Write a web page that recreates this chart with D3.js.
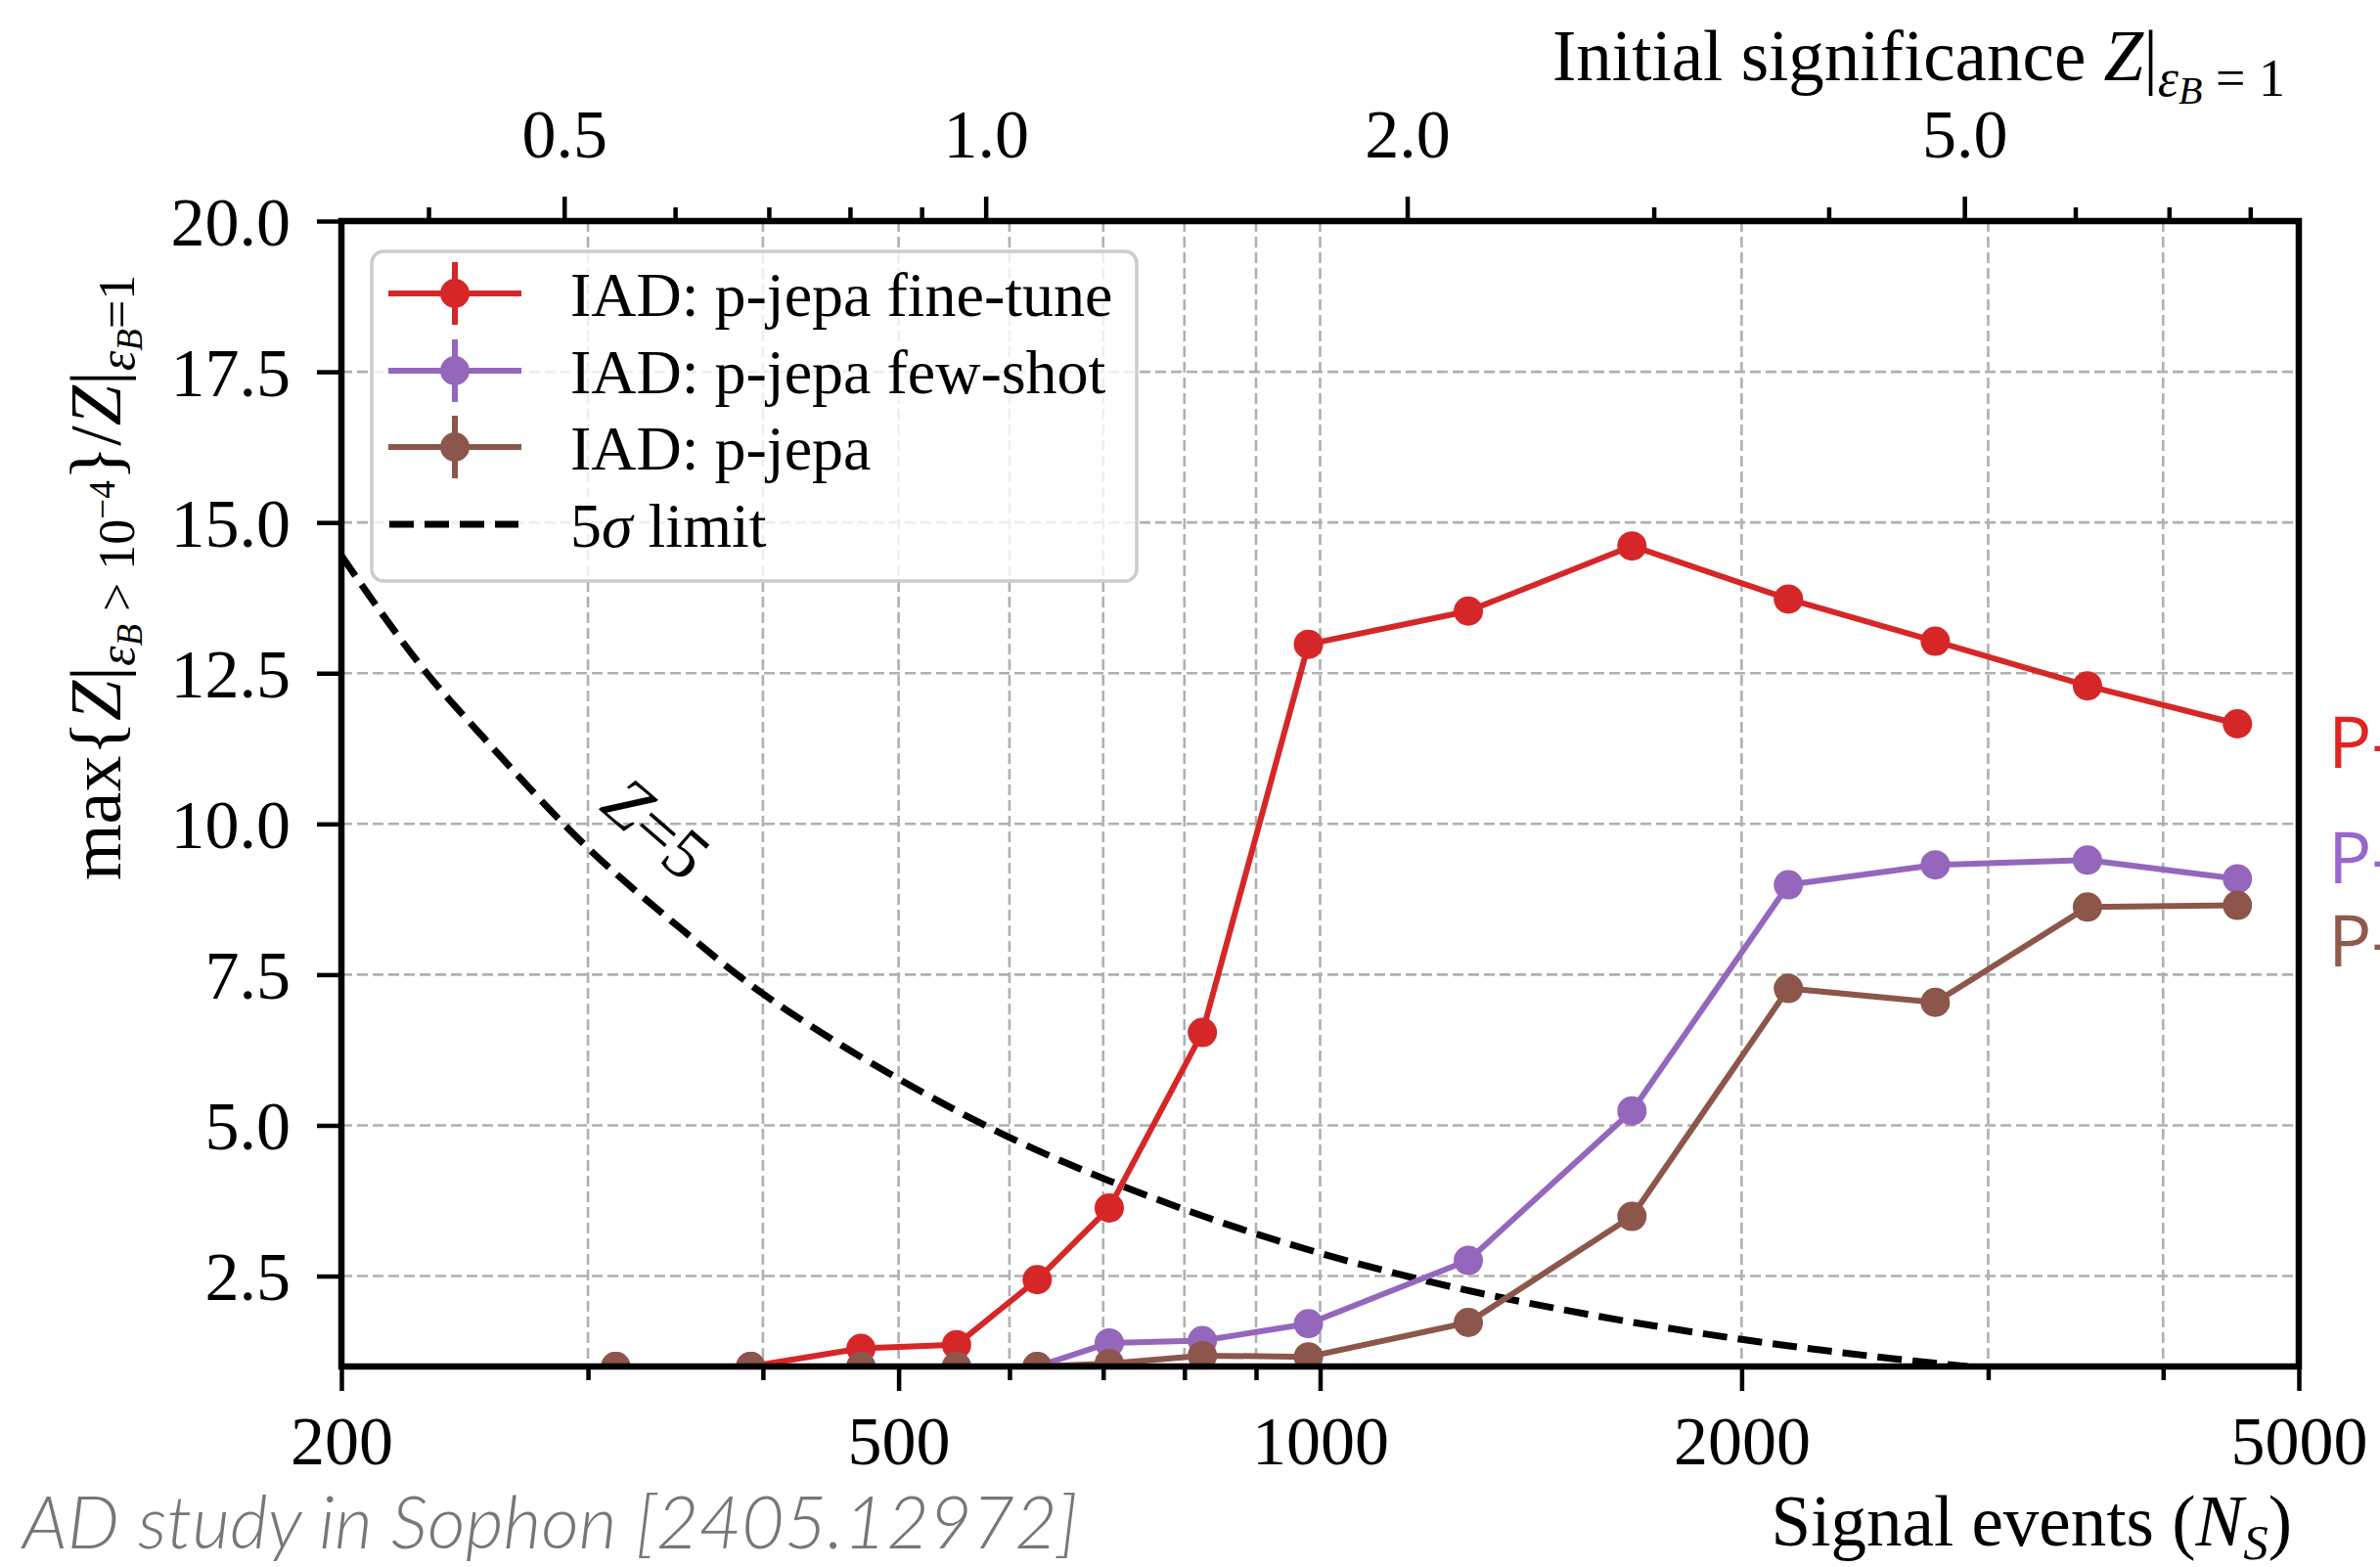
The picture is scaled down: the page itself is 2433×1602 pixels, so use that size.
<!DOCTYPE html>
<html>
<head>
<meta charset="utf-8">
<script src="https://cdn.jsdelivr.net/npm/d3@7"></script>
<style>
  body { margin: 0; background: white; }
  svg { display: block; }
</style>
</head>
<body>
<div id="canvas"></div>
<script>
"use strict"

/* drawing size */
let svgWidth = 2433;
let svgHeight = 1602;

/* plot box */
let plotLeft = 349;
let plotRight = 2350;
let plotTop = 226;
let plotBottom = 1397;

/* signal events (N_S) of the points */
let signalEvents = [314, 392, 470, 550, 628, 707, 824, 981, 1276, 1670, 2160, 2750, 3532, 4520];

/* max significance ratio per series */
let fineTune = [1.0, 1.0, 1.30, 1.36, 2.44, 3.63, 6.54, 12.98, 13.53, 14.61, 13.73, 13.03, 12.29, 11.66];
let fewShot  = [1.0, 1.0, 1.0, 1.0, 1.0, 1.39, 1.43, 1.71, 2.76, 5.24, 8.99, 9.32, 9.40, 9.09];
let pjepa    = [1.0, 1.0, 1.0, 1.0, 1.0, 1.05, 1.18, 1.16, 1.73, 3.49, 7.27, 7.04, 8.62, 8.65];

/* 5 sigma limit */
let limitEvents = [200, 233, 250, 300, 350, 391, 450, 500, 600, 707, 786, 900, 1000, 1200, 1500, 2000, 2500, 2900];
let limitValues = [14.45, 12.35, 11.55, 9.6, 8.25, 7.35, 6.4, 5.77, 4.8, 4.08, 3.67, 3.2, 2.88, 2.4, 1.93, 1.45, 1.16, 1.0];

/* ticks */
let xMajorTicks = [200, 500, 1000, 2000, 5000];
let xMinorTicks = [300, 400, 600, 700, 800, 900, 3000, 4000];
let yTicks = [2.5, 5, 7.5, 10, 12.5, 15, 17.5, 20];
let zMajorTicks = [0.5, 1.0, 2.0, 5.0];
let zMinorTicks = [0.4, 0.6, 0.7, 0.8, 0.9, 3, 4, 6, 7, 8];
let eventsAtZ1 = 577; // N_S where initial Z = 1

let seriesNames = ["IAD: p-jepa fine-tune", "IAD: p-jepa few-shot", "IAD: p-jepa"];
let seriesColors = ["#d62728", "#9467bd", "#8c564b"];
let sideLabelColors = ["#e02424", "#9966cc", "#8f5a4a"];

let serif = "'Liberation Serif', 'Times New Roman', serif";

/* Create drawing canvas */
let svg = d3.select("#canvas")
    .append("svg")
    .attr("width", svgWidth)
    .attr("height", svgHeight)
    .style("background", "white");

/* Scales */
let xScale = d3.scaleLog()
    .domain([200, 5000])
    .range([plotLeft, plotRight]);

let zScale = d3.scaleLog()
    .domain([200 / eventsAtZ1, 5000 / eventsAtZ1])
    .range([plotLeft, plotRight]);

let yScale = d3.scaleLinear()
    .domain([1, 20])
    .range([plotBottom, plotTop]);

/* clip to the plot box */
svg.append("clipPath")
    .attr("id", "plotClip")
    .append("rect")
    .attr("x", plotLeft)
    .attr("y", plotTop)
    .attr("width", plotRight - plotLeft)
    .attr("height", plotBottom - plotTop);

/* grid lines */
let grid = svg.append("g")
    .attr("stroke", "#b0b0b0")
    .attr("stroke-width", 2.6)
    .attr("stroke-dasharray", "11,5");

grid.selectAll(".vgrid")
    .data(xMajorTicks.concat(xMinorTicks))
    .join("line")
    .attr("class", "vgrid")
    .attr("x1", d => xScale(d))
    .attr("x2", d => xScale(d))
    .attr("y1", plotTop)
    .attr("y2", plotBottom);

grid.selectAll(".hgrid")
    .data(yTicks)
    .join("line")
    .attr("class", "hgrid")
    .attr("x1", plotLeft)
    .attr("x2", plotRight)
    .attr("y1", d => yScale(d))
    .attr("y2", d => yScale(d));

/* 5 sigma dashed curve */
let limitLine = d3.line()
    .x((d, i) => xScale(limitEvents[i]))
    .y(d => yScale(d))
    .curve(d3.curveMonotoneX);

svg.append("path")
    .datum(limitValues)
    .attr("clip-path", "url(#plotClip)")
    .attr("d", limitLine)
    .attr("fill", "none")
    .attr("stroke", "black")
    .attr("stroke-width", 7)
    .attr("stroke-dasharray", "25,11");

/* rich text helper: parts with size, offset and italic */
function richText(sel, parts) {
    let cur = 0;
    parts.forEach(function(p) {
        sel.append("tspan")
            .attr("font-size", p.s)
            .attr("dy", p.o - cur)
            .attr("font-style", p.i ? "italic" : null)
            .text(p.t);
        cur = p.o;
    });
    return sel;
}

/* Z = 5 label on the curve */
let zLabel = svg.append("text")
    .attr("transform", "translate(671,847) rotate(41)")
    .attr("text-anchor", "middle")
    .attr("y", 24)
    .attr("font-family", serif)
    .attr("font-size", 72);
richText(zLabel, [
    {t: "Z", s: 72, o: 0, i: true},
    {t: "=5", s: 72, o: 0}
]);

/* series lines and markers */
let dataSets = [fineTune, fewShot, pjepa];

let seriesLine = d3.line()
    .x((d, i) => xScale(signalEvents[i]))
    .y(d => yScale(d));

dataSets.forEach(function(values, k) {
    let g = svg.append("g").attr("clip-path", "url(#plotClip)");
    g.append("path")
        .datum(values)
        .attr("d", seriesLine)
        .attr("fill", "none")
        .attr("stroke", seriesColors[k])
        .attr("stroke-width", 6)
        .attr("stroke-linejoin", "round");
    g.selectAll("circle")
        .data(values)
        .join("circle")
        .attr("cx", (d, i) => xScale(signalEvents[i]))
        .attr("cy", d => yScale(d))
        .attr("r", 15)
        .attr("fill", seriesColors[k]);
});

/* Legend */
let legend = svg.append("g");

legend.append("rect")
    .attr("x", 380)
    .attr("y", 257)
    .attr("width", 782)
    .attr("height", 337)
    .attr("rx", 12)
    .attr("fill", "white")
    .attr("fill-opacity", 0.8)
    .attr("stroke", "#cccccc")
    .attr("stroke-width", 3.5);

let rowY = [300, 379, 457, 536];

seriesNames.forEach(function(name, k) {
    legend.append("line")
        .attr("x1", 397).attr("x2", 533)
        .attr("y1", rowY[k]).attr("y2", rowY[k])
        .attr("stroke", seriesColors[k])
        .attr("stroke-width", 6);
    legend.append("line")
        .attr("x1", 465).attr("x2", 465)
        .attr("y1", rowY[k] - 32).attr("y2", rowY[k] + 32)
        .attr("stroke", seriesColors[k])
        .attr("stroke-width", 6);
    legend.append("circle")
        .attr("cx", 465)
        .attr("cy", rowY[k])
        .attr("r", 15)
        .attr("fill", seriesColors[k]);
    legend.append("text")
        .attr("x", 583)
        .attr("y", rowY[k] + 23)
        .attr("font-family", serif)
        .attr("font-size", 64)
        .text(name);
});

legend.append("line")
    .attr("x1", 398).attr("x2", 530)
    .attr("y1", rowY[3]).attr("y2", rowY[3])
    .attr("stroke", "black")
    .attr("stroke-width", 7)
    .attr("stroke-dasharray", "25,11");

let limitText = legend.append("text")
    .attr("x", 583)
    .attr("y", rowY[3] + 23)
    .attr("font-family", serif)
    .attr("font-size", 64);
richText(limitText, [
    {t: "5", s: 64, o: 0},
    {t: "σ", s: 64, o: 0, i: true},
    {t: " limit", s: 64, o: 0}
]);

/* Axes */
function styleAxis(g) {
    g.select(".domain").remove();
    g.attr("font-family", serif).attr("font-size", 70);
    g.selectAll("line").attr("stroke", "black").attr("stroke-width", 4.5);
    g.selectAll("text").attr("fill", "black");
}

svg.append("g")
    .attr("transform", "translate(0," + plotBottom + ")")
    .call(d3.axisBottom(xScale).tickValues(xMajorTicks).tickFormat(d3.format("d")).tickSize(25))
    .call(styleAxis)
    .selectAll("text").attr("y", 100).attr("dy", null);

svg.append("g")
    .attr("transform", "translate(0," + plotBottom + ")")
    .call(d3.axisBottom(xScale).tickValues(xMinorTicks).tickFormat("").tickSize(14))
    .call(styleAxis);

svg.append("g")
    .attr("transform", "translate(" + plotLeft + ",0)")
    .call(d3.axisLeft(yScale).tickValues(yTicks).tickFormat(d3.format(".1f")).tickSize(25))
    .call(styleAxis)
    .selectAll("text").attr("x", -52).attr("y", 24).attr("dy", null);

svg.append("g")
    .attr("transform", "translate(0," + plotTop + ")")
    .call(d3.axisTop(zScale).tickValues(zMajorTicks).tickFormat(d3.format(".1f")).tickSize(25))
    .call(styleAxis)
    .selectAll("text").attr("y", -65).attr("dy", null);

svg.append("g")
    .attr("transform", "translate(0," + plotTop + ")")
    .call(d3.axisTop(zScale).tickValues(zMinorTicks).tickFormat("").tickSize(14))
    .call(styleAxis);

/* spines */
svg.append("rect")
    .attr("x", plotLeft)
    .attr("y", plotTop)
    .attr("width", plotRight - plotLeft)
    .attr("height", plotBottom - plotTop)
    .attr("fill", "none")
    .attr("stroke", "black")
    .attr("stroke-width", 6.5);

/* axis labels */
let xLabel = svg.append("text")
    .attr("x", 2343)
    .attr("y", 1580)
    .attr("text-anchor", "end")
    .attr("font-family", serif)
    .attr("font-size", 73);
richText(xLabel, [
    {t: "Signal events (", s: 73, o: 0},
    {t: "N", s: 73, o: 0, i: true},
    {t: "S", s: 51, o: 14, i: true},
    {t: ")", s: 73, o: 0}
]);

let topLabel = svg.append("text")
    .attr("x", 2336)
    .attr("y", 82)
    .attr("text-anchor", "end")
    .attr("font-family", serif)
    .attr("font-size", 73);
richText(topLabel, [
    {t: "Initial significance ", s: 73, o: 0},
    {t: "Z", s: 73, o: 0, i: true},
    {t: "|", s: 73, o: 0},
    {t: "ε", s: 54, o: 16, i: true},
    {t: "B", s: 40, o: 24, i: true},
    {t: " = 1", s: 54, o: 16}
]);

let yLabel = svg.append("text")
    .attr("transform", "translate(123,900) rotate(-90)")
    .attr("font-family", serif)
    .attr("font-size", 74);
richText(yLabel, [
    {t: "max{", s: 74, o: 0},
    {t: "Z", s: 74, o: 0, i: true},
    {t: "|", s: 74, o: 0},
    {t: "ε", s: 52, o: 14, i: true},
    {t: "B", s: 37, o: 22, i: true},
    {t: " > 10", s: 52, o: 14},
    {t: "−4", s: 37, o: -6},
    {t: "}", s: 74, o: 0},
    {t: "/", s: 74, o: 0},
    {t: "Z", s: 74, o: 0, i: true},
    {t: "|", s: 74, o: 0},
    {t: "ε", s: 52, o: 14, i: true},
    {t: "B", s: 37, o: 22, i: true},
    {t: "=1", s: 52, o: 14}
]);

/* cut-off labels at the right edge */
let sideY = [785, 903, 988];
sideY.forEach(function(y, k) {
    svg.append("text")
        .attr("x", 2380)
        .attr("y", y)
        .attr("font-family", "'Open Sans', 'Noto Sans', sans-serif")
        .attr("font-size", 74)
        .attr("fill", sideLabelColors[k])
        .text("P-");
});

/* source note */
svg.append("text")
    .attr("x", 23)
    .attr("y", 1583)
    .attr("font-family", "Lato, 'Open Sans', sans-serif")
    .attr("font-weight", 300)
    .attr("font-style", "italic")
    .attr("font-size", 74)
    .attr("fill", "#777777")
    .attr("textLength", 1079)
    .attr("lengthAdjust", "spacingAndGlyphs")
    .text("AD study in Sophon [2405.12972]");
</script>
</body>
</html>
